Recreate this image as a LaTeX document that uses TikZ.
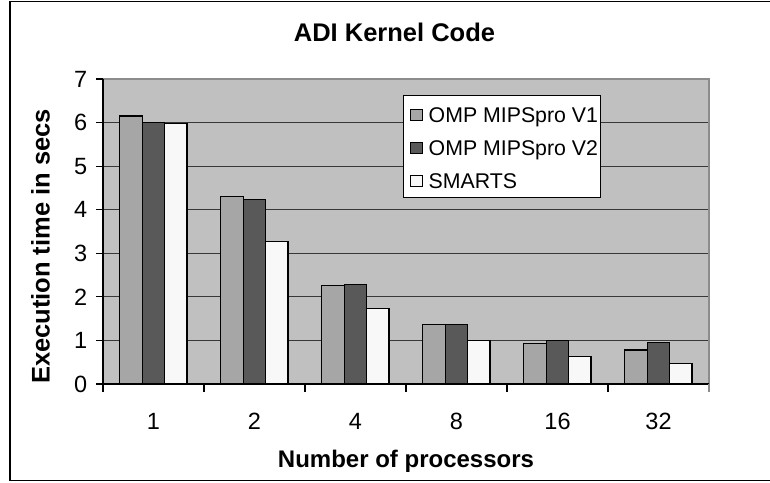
\documentclass[tikz,border=0pt]{standalone}
\usepackage{fontspec}
\setmainfont{Liberation Sans}
\definecolor{plotbg}{HTML}{C0C0C0}
\definecolor{vone}{HTML}{A6A6A6}
\definecolor{vtwo}{HTML}{595959}
\definecolor{smarts}{HTML}{F8F8F8}
\definecolor{gridc}{HTML}{383838}
\definecolor{borderc}{HTML}{8C8C8C}
\tikzset{
  barbox/.style={draw=black, line width=1.1pt},
  gridline/.style={draw=gridc, line width=1pt},
  axisline/.style={draw=black, line width=1.2pt},
  ticklbl/.style={font=\fontsize{23.5}{27}\selectfont, inner sep=0pt},
  titlelbl/.style={font=\fontsize{25.5}{29}\selectfont\bfseries, inner sep=0pt},
  axislbl/.style={font=\fontsize{24}{28}\selectfont\bfseries, inner sep=0pt},
  yaxislbl/.style={font=\fontsize{25.5}{29}\selectfont\bfseries, inner sep=0pt},
  legendlbl/.style={font=\fontsize{21.3}{25}\selectfont, inner sep=0pt},
  legendmark/.style={draw=black, line width=0.9pt},
}
\begin{document}
\begin{tikzpicture}[x=1pt,y=-1pt]
\useasboundingbox (0,0) rectangle (770,482);
\fill[white] (0,0) rectangle (770,482);
% outer frame (right side lies outside the picture)
\draw[black, line width=1.6pt] (771,1.5) -- (10,1.5) -- (10,480.5) -- (771,480.5);
% title
\node[titlelbl, anchor=base] (title) at (394.5,41.5) {ADI Kernel Code};
% plot area
\fill[plotbg] (103,79) rectangle (709,384);
\foreach \v in {1,...,7} {
  \draw[gridline] (103,{384-43.57*\v}) -- (709,{384-43.57*\v});
}
% bars
\foreach \g/\a/\b/\c in {0/6.15/6.0/5.97, 1/4.30/4.23/3.28, 2/2.26/2.28/1.74,
                         3/1.36/1.36/0.99, 4/0.92/1.00/0.63, 5/0.78/0.95/0.47} {
  \pgfmathsetmacro\xl{103+101*\g+16.8}
  \draw[barbox, fill=vone]   (\xl,384) rectangle ({\xl+22.4},{384-43.57*\a});
  \draw[barbox, fill=vtwo]   ({\xl+22.4},384) rectangle ({\xl+44.8},{384-43.57*\b});
  \draw[barbox, fill=smarts] ({\xl+44.8},384) rectangle ({\xl+67.2},{384-43.57*\c});
}
% plot border top and right
\draw[draw=borderc, line width=1.6pt] (103,79) -- (709,79) -- (709,384);
% axes
\draw[axisline] (103,79) -- (103,384) -- (709,384);
% y ticks and labels
\foreach \v in {0,...,7} {
  \draw[axisline] (96,{384-43.57*\v}) -- (103,{384-43.57*\v});
  \node[ticklbl, anchor=east] (y\v) at (87.5,{384-43.57*\v}) {\v};
}
% x ticks
\foreach \i in {0,...,5} {
  \draw[axisline] ({103+101*\i},384) -- ({103+101*\i},392);
}
\draw[draw=borderc, line width=1.6pt] (709,384) -- (709,392);
% x tick labels
\foreach \i/\t in {0/1, 1/2, 2/4, 3/8, 4/16, 5/32} {
  \node[ticklbl] (x\i) at ({153.5+101*\i},421) {\t};
}
% axis titles
\node[axislbl, anchor=base] (xlabel) at (406,467.3) {Number of processors};
\node[yaxislbl, anchor=base, rotate=90] (ylabel) at (49.5,246.5) {Execution time in secs};
% legend
\draw[fill=white, draw=black, line width=0.9pt] (403.3,95.7) rectangle (600.7,197);
\foreach \r/\col/\t in {0/vone/OMP MIPSpro V1, 1/vtwo/OMP MIPSpro V2, 2/smarts/SMARTS} {
  \draw[legendmark, fill=\col] (410.5,{109.5+33*\r}) rectangle (422,{120.5+33*\r});
  \node[legendlbl, anchor=base west] (leg\r) at (428.5,{122.5+33*\r}) {\t};
}
\end{tikzpicture}
\end{document}
